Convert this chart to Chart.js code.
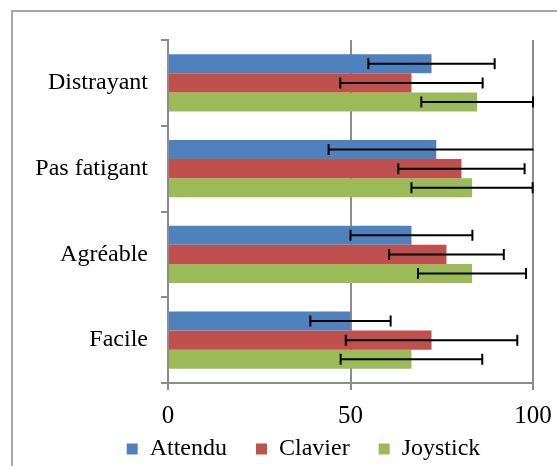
<!DOCTYPE html>
<html>
<head>
<meta charset="utf-8">
<script src="https://cdn.jsdelivr.net/npm/chart.js@4"></script>
<style>
  html, body { margin: 0; padding: 0; background: #fff; }
  #wrap { position: relative; width: 557px; height: 466px; }
</style>
</head>
<body>
<div id="wrap"><canvas id="chart" width="557" height="466"></canvas></div>
<script>
// catégories (de haut en bas)
const categories = ['Distrayant', 'Pas fatigant', 'Agréable', 'Facile'];

// moyennes
const attendu = [72.2, 73.5, 66.7, 50.0];
const clavier = [66.7, 80.4, 76.3, 72.2];
const joystick = [84.7, 83.3, 83.3, 66.7];

// écarts (barres d'erreur)
const attenduErr = [17.3, 29.5, 16.7, 11.0];
const clavierErr = [19.5, 17.3, 15.7, 23.5];
const joystickErr = [15.3, 16.6, 14.8, 19.4];

const xTicks = [0, 50, 100];

const FONT = "'Liberation Serif', 'Times New Roman', serif";
const GRAY = '#8c8c8c';

// barres d'erreur + cadre
const errorBars = {
    id: 'errorBars',
    afterLayout(chart) {
        // place pour les étiquettes de l'axe x, légende décalée comme dans l'original
        chart.scales.x.bottom = chart.scales.x.top + 50;
        chart.legend.left += 37;
        chart.legend.right += 37;
    },
    beforeDraw(chart) {
        const c = chart.ctx;
        c.save();
        c.strokeStyle = GRAY;
        c.lineWidth = 1.5;
        c.strokeRect(12, 11, 620, 520);
        c.restore();
    },
    afterDatasetsDraw(chart) {
        const c = chart.ctx;
        const xs = chart.scales.x;
        const area = chart.chartArea;
        c.save();
        c.strokeStyle = '#000';
        c.lineWidth = 2;
        chart.data.datasets.forEach((ds, i) => {
            const meta = chart.getDatasetMeta(i);
            meta.data.forEach((bar, j) => {
                const v = ds.data[j], e = ds.errors[j];
                const lo = xs.getPixelForValue(v - e);
                const hi = xs.getPixelForValue(v + e);
                const y = bar.y;
                const l = Math.max(lo, area.left), r = Math.min(hi, area.right + 0.5);
                c.beginPath();
                c.moveTo(l, y);
                c.lineTo(r, y);
                if (lo >= area.left) { c.moveTo(lo, y - 5.5); c.lineTo(lo, y + 5.5); }
                if (hi <= area.right + 0.5) { c.moveTo(hi, y - 5.5); c.lineTo(hi, y + 5.5); }
                c.stroke();
            });
        });
        c.restore();
    }
};

new Chart(document.getElementById('chart'), {
    type: 'bar',
    data: {
        labels: categories,
        datasets: [
            { label: 'Attendu', data: attendu, errors: attenduErr, backgroundColor: '#4F81BD' },
            { label: 'Clavier', data: clavier, errors: clavierErr, backgroundColor: '#C0504D' },
            { label: 'Joystick', data: joystick, errors: joystickErr, backgroundColor: '#9BBB59' }
        ]
    },
    options: {
        indexAxis: 'y',
        responsive: false,
        animation: false,
        categoryPercentage: 0.67,
        barPercentage: 1.0,
        layout: { padding: { top: 40, right: 24, left: 0, bottom: -5 } },
        scales: {
            x: {
                min: 0,
                max: 100,
                afterBuildTicks(scale) { scale.ticks = xTicks.map(v => ({ value: v })); },
                grid: { color: GRAY, lineWidth: 2, tickLength: 7, drawTicks: true },
                border: { color: GRAY, width: 2 },
                ticks: { color: '#000', font: { family: FONT, size: 25 }, padding: 11, maxRotation: 0 },
                afterFit(scale) {
                    scale.height = 25;
                    scale.paddingLeft = 0;
                    scale.paddingRight = 0;
                }
            },
            y: {
                grid: { offset: true, drawOnChartArea: false, color: GRAY, lineWidth: 2, tickLength: 7 },
                border: { color: GRAY, width: 2 },
                ticks: { color: '#000', font: { family: FONT, size: 24 }, padding: 13 },
                afterFit(scale) { scale.width = 168; }
            }
        },
        plugins: {
            legend: {
                position: 'bottom',
                labels: {
                    color: '#000',
                    font: { family: FONT, size: 24 },
                    boxWidth: 11,
                    boxHeight: 11,
                    padding: 29
                }
            },
            tooltip: { enabled: false }
        }
    },
    plugins: [errorBars]
});
</script>
</body>
</html>
